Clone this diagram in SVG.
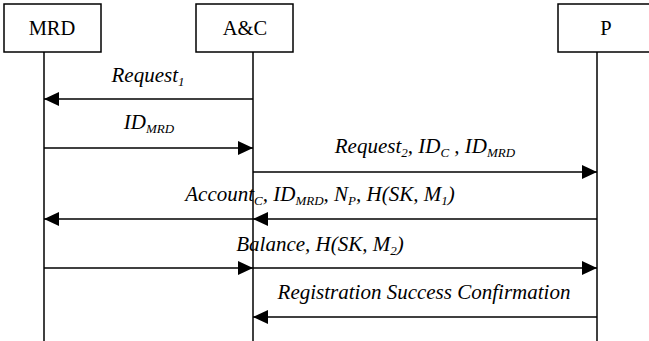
<svg xmlns="http://www.w3.org/2000/svg" width="649" height="341" viewBox="0 0 649 341">
<style>
.box{fill:#fff;stroke:#000;stroke-width:1.5}
.life{stroke:#000;stroke-width:1.5}
.msg{stroke:#000;stroke-width:1.6;fill:none}
.name{font-family:'Liberation Serif','Times New Roman',serif;font-size:20.5px;fill:#000;text-anchor:middle}
.lbl{font-family:'Liberation Serif','Times New Roman',serif;font-size:21px;font-style:italic;fill:#000;text-anchor:middle}
.sub{font-size:13px}
</style>
<defs>
<marker id="ah" viewBox="0 0 15 14" refX="15" refY="7" markerWidth="15" markerHeight="14" markerUnits="userSpaceOnUse" orient="auto">
<path d="M0,0 L15,7 L0,14 Z" fill="#000"/>
</marker>
</defs>
<g id="MRD">
<rect class="box" x="4" y="4" width="97" height="48"/>
<text class="name" x="52" y="35">MRD</text>
<line class="life" x1="44" y1="52" x2="44" y2="341"/>
</g>
<g id="AC">
<rect class="box" x="196" y="4" width="97" height="48"/>
<text class="name" x="245" y="35">A&amp;C</text>
<line class="life" x1="253" y1="52" x2="253" y2="341"/>
</g>
<g id="P">
<rect class="box" x="558" y="4" width="97" height="48"/>
<text class="name" x="606" y="35">P</text>
<line class="life" x1="597" y1="52" x2="597" y2="341"/>
</g>
<g id="connectors">
<line class="msg" x1="253" y1="99" x2="44" y2="99" marker-end="url(#ah)"/>
<line class="msg" x1="44" y1="148" x2="253" y2="148" marker-end="url(#ah)"/>
<line class="msg" x1="253" y1="172" x2="597" y2="172" marker-end="url(#ah)"/>
<line class="msg" x1="597" y1="219" x2="253" y2="219" marker-end="url(#ah)"/>
<line class="msg" x1="253" y1="219" x2="44" y2="219" marker-end="url(#ah)"/>
<line class="msg" x1="44" y1="268" x2="253" y2="268" marker-end="url(#ah)"/>
<line class="msg" x1="253" y1="268" x2="597" y2="268" marker-end="url(#ah)"/>
<line class="msg" x1="597" y1="317" x2="253" y2="317" marker-end="url(#ah)"/>
</g>
<g id="labels">
<text class="lbl" x="148" y="82">Request<tspan class="sub" dy="4">1</tspan></text>
<text class="lbl" x="149" y="129">ID<tspan class="sub" dy="4">MRD</tspan></text>
<text class="lbl" x="425" y="153">Request<tspan class="sub" dy="4">2</tspan><tspan dy="-4">, ID</tspan><tspan class="sub" dy="4">C</tspan><tspan dy="-4"> , ID</tspan><tspan class="sub" dy="4">MRD</tspan></text>
<text class="lbl" x="320" y="201">Account<tspan class="sub" dy="4">C</tspan><tspan dy="-4">, ID</tspan><tspan class="sub" dy="4">MRD</tspan><tspan dy="-4">, N</tspan><tspan class="sub" dy="4">P</tspan><tspan dy="-4">, H(SK, M</tspan><tspan class="sub" dy="4">1</tspan><tspan dy="-4">)</tspan></text>
<text class="lbl" x="320" y="251">Balance, H(SK, M<tspan class="sub" dy="4">2</tspan><tspan dy="-4">)</tspan></text>
<text class="lbl" x="424" y="299">Registration Success Confirmation</text>
</g>
</svg>
